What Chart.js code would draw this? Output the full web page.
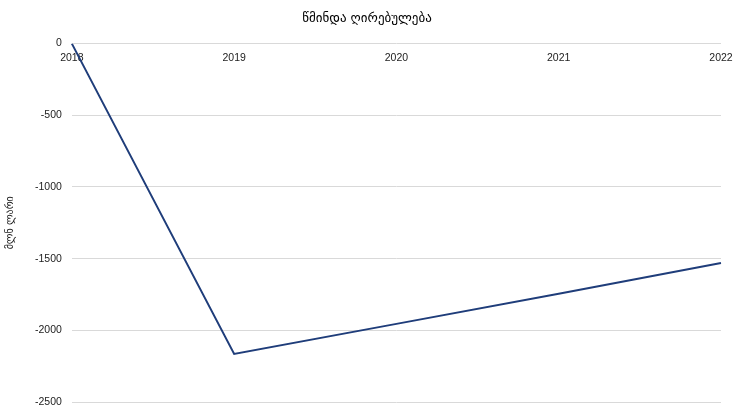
<!DOCTYPE html>
<html>
<head>
<meta charset="utf-8">
<script src="https://cdn.jsdelivr.net/npm/chart.js@4"></script>
<style>
  html, body { margin: 0; padding: 0; background: #fff; }
  #wrap { width: 734px; height: 414px; }
</style>
</head>
<body>
<div id="wrap"><canvas id="chart" width="734" height="414"></canvas></div>
<script>
const years = ["2018", "2019", "2020", "2021", "2022"];
const netValue = [0, -2165, -1955, -1745, -1530];
const yTicks = [0, -500, -1000, -1500, -2000, -2500];

const ctx = document.getElementById("chart").getContext("2d");
new Chart(ctx, {
  type: "line",
  data: {
    labels: years,
    datasets: [
      {
        label: "წმინდა ღირებულება",
        data: netValue,
        borderColor: "#1f3d7a",
        borderWidth: 2,
        pointRadius: 0,
        tension: 0,
        fill: false,
      },
    ],
  },
  options: {
    responsive: false,
    animation: false,
    layout: { padding: { top: 7, right: 0, bottom: 0, left: 0 } },
    plugins: {
      legend: { display: false },
      tooltip: { enabled: false },
      title: {
        display: true,
        text: "წმინდა ღირებულება",
        color: "#000",
        font: { family: "DejaVu Sans", size: 13, weight: "normal" },
        padding: { top: 4, bottom: 17 },
      },
    },
    scales: {
      x: {
        type: "category",
        position: { y: 0 },
        offset: false,
        grid: { display: false, drawTicks: false },
        border: { display: false },
        ticks: {
          color: "#222",
          font: { family: "Liberation Sans", size: 10.5 },
          padding: 8,
          maxRotation: 0,
        },
        // keep the edge labels from pushing the plot inwards
        afterFit: (scale) => {
          scale.paddingLeft = 0;
          scale.paddingRight = 13;
        },
      },
      y: {
        min: -2500,
        max: 0,
        afterBuildTicks: (scale) => {
          scale.ticks = yTicks.map((v) => ({ value: v }));
        },
        afterFit: (scale) => {
          scale.paddingBottom = 12;
        },
        grid: { color: "#d9d9d9", lineWidth: 1, drawTicks: false },
        border: { display: false },
        ticks: {
          color: "#222",
          font: { family: "Liberation Sans", size: 10.5 },
          padding: 10,
          callback: (v) => String(v),
        },
        title: {
          display: true,
          text: "მლნ ლარი",
          color: "#222",
          font: { family: "DejaVu Sans", size: 10 },
          padding: { top: 4, bottom: 9 },
        },
      },
    },
  },
});
</script>
</body>
</html>
